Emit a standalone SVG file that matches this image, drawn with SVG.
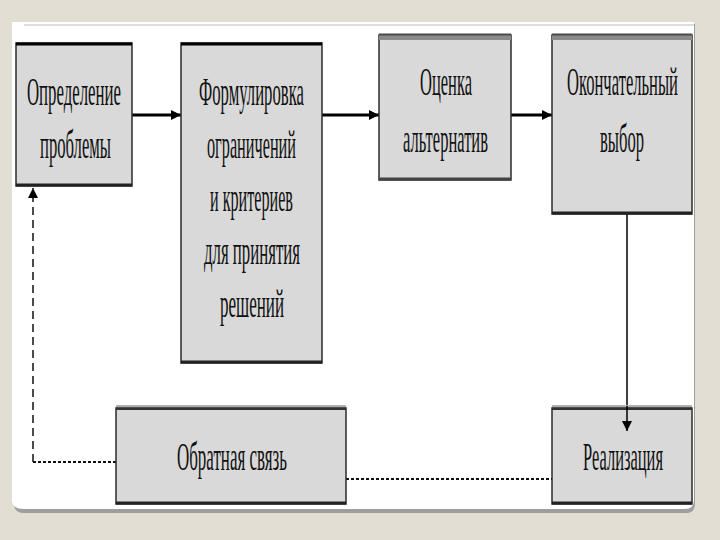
<svg xmlns="http://www.w3.org/2000/svg" width="720" height="540" viewBox="0 0 720 540">
<style>
.box{fill:#d9d9d9;stroke:#2b2b2b;stroke-width:1.5}
.t{font-family:"Liberation Serif","Times New Roman",serif;font-size:39px;fill:#111}
.solid{stroke:#000;stroke-width:3;fill:none}
</style>
<defs>
<marker id="ah" viewBox="0 0 10 10" refX="10" refY="5" markerWidth="10" markerHeight="14" markerUnits="userSpaceOnUse" orient="auto"><path d="M0,0 L10,5 L0,10 z" fill="#000"/></marker>
</defs>
<rect width="720" height="540" fill="#e3ded3"/>
<path d="M12,24 H695 V504 Q695,513 686,513 H24 Q14,513 14,504 Z" fill="#9e9e9e"/>
<path d="M12,22 H694 V500 Q694,509 685,509 H24 Q12,509 12,500 Z" fill="#ffffff"/>
<line x1="24" y1="25" x2="694" y2="25" stroke="#bdbdbd" stroke-width="1"/>

<g id="connectors">
<line class="solid" x1="132" y1="115" x2="181" y2="115" marker-end="url(#ah)"/>
<line class="solid" x1="322" y1="115" x2="379" y2="115" marker-end="url(#ah)"/>
<line class="solid" x1="511" y1="115" x2="552" y2="115" marker-end="url(#ah)"/>
<line x1="346" y1="479" x2="552" y2="479" stroke="#111" stroke-width="2" stroke-dasharray="3,2"/>
<line x1="116" y1="462" x2="33" y2="462" stroke="#111" stroke-width="2" stroke-dasharray="3,2"/>
<line x1="33" y1="462" x2="33" y2="188" stroke="#111" stroke-width="1.5" stroke-dasharray="8,5" marker-end="url(#ah)"/>
<line x1="627" y1="214" x2="627" y2="408" stroke="#000" stroke-width="1.5"/>
</g>

<g id="n1">
<rect class="box" x="16" y="43" width="116" height="143"/>
<line x1="16" y1="44" x2="132" y2="44" stroke="#000" stroke-width="3"/>
<line x1="16" y1="185" x2="132" y2="185" stroke="#222" stroke-width="3"/>
<g transform="scale(0.5,1)">
<text class="t" x="54" y="105" textLength="188" lengthAdjust="spacingAndGlyphs">Определение</text>
<text class="t" x="80" y="158" textLength="142" lengthAdjust="spacingAndGlyphs">проблемы</text>
</g>
</g>

<g id="n2">
<rect class="box" x="181" y="43" width="141" height="320"/>
<line x1="181" y1="44" x2="322" y2="44" stroke="#000" stroke-width="3"/>
<line x1="181" y1="362" x2="322" y2="362" stroke="#222" stroke-width="3"/>
<g transform="scale(0.5,1)">
<text class="t" x="398" y="105" textLength="210" lengthAdjust="spacingAndGlyphs">Формулировка</text>
<text class="t" x="414" y="158" textLength="178" lengthAdjust="spacingAndGlyphs">ограничений</text>
<text class="t" x="420" y="211" textLength="166" lengthAdjust="spacingAndGlyphs">и критериев</text>
<text class="t" x="408" y="264" textLength="192" lengthAdjust="spacingAndGlyphs">для принятия</text>
<text class="t" x="440" y="317" textLength="128" lengthAdjust="spacingAndGlyphs">решений</text>
</g>
</g>

<g id="n3">
<rect class="box" x="379" y="35" width="132" height="145"/>
<rect x="379" y="34" width="132" height="6" fill="#8a8a8a"/>
<line x1="379" y1="34.5" x2="511" y2="34.5" stroke="#4a4a4a" stroke-width="2"/>
<line x1="379" y1="179" x2="511" y2="179" stroke="#444" stroke-width="3"/>
<g transform="scale(0.5,1)">
<text class="t" x="840" y="95" textLength="104" lengthAdjust="spacingAndGlyphs">Оценка</text>
<text class="t" x="806" y="152" textLength="170" lengthAdjust="spacingAndGlyphs">альтернатив</text>
</g>
</g>

<g id="n4">
<rect class="box" x="552" y="35" width="140" height="179"/>
<rect x="552" y="34" width="140" height="6" fill="#8a8a8a"/>
<line x1="552" y1="34.5" x2="692" y2="34.5" stroke="#4a4a4a" stroke-width="2"/>
<line x1="552" y1="213" x2="692" y2="213" stroke="#222" stroke-width="3"/>
<g transform="scale(0.5,1)">
<text class="t" x="1134" y="95" textLength="222" lengthAdjust="spacingAndGlyphs">Окончательный</text>
<text class="t" x="1200" y="152" textLength="88" lengthAdjust="spacingAndGlyphs">выбор</text>
</g>
</g>

<g id="n5">
<rect x="116" y="405" width="230" height="4" fill="#b0b0b0"/>
<rect class="box" x="116" y="408" width="230" height="96"/>
<line x1="116" y1="409" x2="346" y2="409" stroke="#333" stroke-width="2"/>
<line x1="116" y1="503" x2="346" y2="503" stroke="#222" stroke-width="3"/>
<g transform="scale(0.5,1)">
<text class="t" x="354" y="470" textLength="220" lengthAdjust="spacingAndGlyphs">Обратная связь</text>
</g>
</g>

<g id="n6">
<rect x="552" y="405" width="140" height="4" fill="#b0b0b0"/>
<rect class="box" x="552" y="408" width="140" height="96"/>
<line x1="552" y1="409" x2="692" y2="409" stroke="#333" stroke-width="2"/>
<line x1="552" y1="503" x2="692" y2="503" stroke="#222" stroke-width="3"/>
<g transform="scale(0.5,1)">
<text class="t" x="1166" y="470" textLength="160" lengthAdjust="spacingAndGlyphs">Реализация</text>
</g>
</g>
<line x1="627" y1="406" x2="627" y2="431" stroke="#000" stroke-width="1.5" marker-end="url(#ah)"/>
</svg>
